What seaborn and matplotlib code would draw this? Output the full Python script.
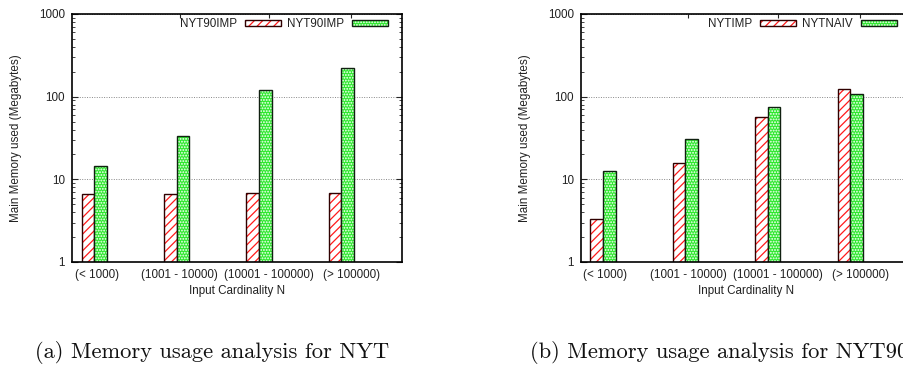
import matplotlib
matplotlib.use("Agg")
import matplotlib.pyplot as plt
import seaborn as sns
import pandas as pd
from matplotlib.patches import Patch
from matplotlib.ticker import LogLocator, NullFormatter, FixedLocator

# ---- data ----
categories = ["(< 1000)", "(1001 - 10000)", "(10001 - 100000)", "(> 100000)"]

left_series = ["NYT90IMP", "NYT90IMP "]
left_red = [6.6, 6.7, 6.8, 6.85]
left_green = [14.4, 33.0, 120.0, 220.0]

right_series = ["NYTIMP", "NYTNAIV"]
right_red = [3.3, 15.7, 56.5, 125.0]
right_green = [12.6, 31.0, 75.5, 107.0]

y_ticks = [1, 10, 100, 1000]
y_ticklabels = ["1", "10", "100", "1000"]
xlabel = "Input Cardinality N"
ylabel = "Main Memory used (Megabytes)"
captions = ["(a) Memory usage analysis for NYT", "(b) Memory usage analysis for NYT90IMP"]

# layout: label positions are slightly shifted from the group centres in the original
label_shift = [0.03, 0.035, 0.125, 0.12]

sns.set_theme(style="white")
plt.rcParams["font.family"] = ["Liberation Sans", "DejaVu Sans"]
plt.rcParams["hatch.linewidth"] = 0.9

FS = 8.4
TXT = "#222222"
RED = "#ff1a1a"
GREEN = "#2ee82e"

fig = plt.figure(figsize=(9.04, 3.67), dpi=100)
W, H = 904, 367


def add_axes_px(x0, y0, x1, y1):
    return fig.add_axes([x0 / W, 1 - y1 / H, (x1 - x0) / W, (y1 - y0) / H])


def style_bars(ax, n_cat):
    patches = [p for p in ax.patches]
    for i, p in enumerate(patches):
        if i < n_cat:
            p.set_facecolor("white")
            p.set_edgecolor("#300000")
            p.set_linewidth(1.0)
            p.set_hatch("////")
            p._hatch_color = matplotlib.colors.to_rgba(RED)
        else:
            p.set_facecolor(GREEN)
            p.set_edgecolor("#102010")
            p.set_linewidth(1.0)
            p.set_hatch("......")
            p._hatch_color = (1, 1, 1, 1)
        p.set_zorder(3)


def draw_panel(ax, series, red, green):
    df = pd.DataFrame({
        "cat": categories * 2,
        "val": list(red) + list(green),
        "series": [series[0]] * len(categories) + [series[1]] * len(categories),
    })
    sns.barplot(data=df, x="cat", y="val", hue="series", order=categories,
                hue_order=series, width=0.305, gap=0, ax=ax, legend=False,
                log_scale=(False, True), errorbar=None, saturation=1)
    style_bars(ax, len(categories))
    ax.set_yscale("log")
    ax.set_ylim(1, 1000)
    ax.set_xlim(-0.27, 3.735)
    ticks = [i + s for i, s in enumerate(label_shift)]
    ax.set_xticks(ticks)
    ax.set_xticklabels(categories)
    ax.set_yticks(y_ticks)
    ax.set_yticklabels(y_ticklabels)
    ax.yaxis.set_minor_locator(LogLocator(base=10, subs=range(2, 10)))
    ax.yaxis.set_minor_formatter(NullFormatter())
    ax.tick_params(axis="y", which="major", direction="in", length=4.5, width=0.8,
                   left=True, right=True, labelsize=FS, labelcolor=TXT, pad=5)
    ax.tick_params(axis="y", which="minor", direction="in", length=2.5, width=0.6,
                   left=True, right=True)
    ax.tick_params(axis="x", which="major", direction="in", length=3, width=0.8,
                   bottom=False, top=False, labelsize=FS, labelcolor=TXT, pad=5)
    sec = ax.secondary_xaxis("top")
    sec.xaxis.set_major_locator(FixedLocator(ticks[1:]))
    sec.tick_params(direction="in", length=3, width=0.8, labeltop=False)
    for s in sec.spines.values():
        s.set_visible(False)
    ax.grid(False)
    ax.yaxis.grid(True, which="major", color="#888888", linestyle=(0, (1, 1.5)), linewidth=0.7)
    for s in ax.spines.values():
        s.set_visible(True)
        s.set_color("black")
        s.set_linewidth(1.2)
        s.set_zorder(5)
    ax.set_xlabel(xlabel, fontsize=FS, color=TXT, labelpad=3)
    ax.set_ylabel(ylabel, fontsize=FS, color=TXT, labelpad=12)
    ax.set_facecolor("white")

    h_red = Patch(facecolor="white", edgecolor="#300000", hatch="////", linewidth=1.0)
    h_red._hatch_color = matplotlib.colors.to_rgba(RED)
    h_green = Patch(facecolor=GREEN, edgecolor="#102010", hatch="......", linewidth=1.0)
    h_green._hatch_color = (1, 1, 1, 1)
    ax.legend([h_red, h_green], [series[0].strip(), series[1].strip()], ncol=2,
              loc="upper right", bbox_to_anchor=(0.957, 0.982), frameon=False,
              markerfirst=False, fontsize=FS, handlelength=3.08, handleheight=0.45,
              handletextpad=0.65, columnspacing=0.55, borderpad=0, borderaxespad=0,
              labelcolor=TXT)


ax1 = add_axes_px(72, 14, 402, 262)
draw_panel(ax1, left_series, left_red, left_green)
ax2 = add_axes_px(580.7, 14, 910.7, 262)
draw_panel(ax2, right_series, right_red, right_green)

cap_font = dict(family=["cmr10", "DejaVu Serif"], fontsize=16.2, color="#111111")
fig.text(35 / W, 1 - 352 / H, captions[0], ha="left", va="center", **cap_font)
fig.text(530 / W, 1 - 352 / H, captions[1], ha="left", va="center", **cap_font)

fig.savefig("out.png", dpi=100, facecolor="white")
